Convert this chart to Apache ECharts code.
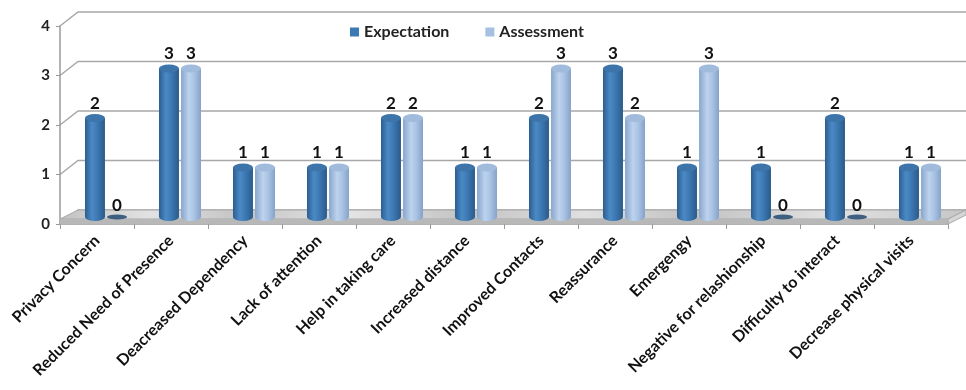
<!DOCTYPE html>
<html>
<head>
<meta charset="utf-8">
<script src="https://cdn.jsdelivr.net/npm/echarts@6/dist/echarts.min.js"></script>
<style>
  html, body { margin: 0; padding: 0; background: #fff; }
  #chart { width: 966px; height: 390px; }
</style>
</head>
<body>
<div id="chart"></div>
<script>
// data
var categories = [
  "Privacy Concern", "Reduced Need of Presence", "Deacreased Dependency",
  "Lack of attention", "Help in taking care", "Increased distance",
  "Improved Contacts", "Reassurance", "Emergengy",
  "Negative for relashionship", "Difficulty to interact", "Decrease physical visits"
];
var expectation = [2, 3, 1, 1, 2, 1, 2, 3, 1, 1, 2, 1];
var assessment  = [0, 3, 1, 1, 2, 1, 3, 2, 3, 0, 0, 1];
var yTicks = [0, 1, 2, 3, 4];

var DX = 18, DY = -14;      // depth offset of the back wall
var FONT = "Lato, 'Open Sans', sans-serif";

var myChart = echarts.init(document.getElementById("chart"));

function grad(stops) {
  return new echarts.graphic.LinearGradient(0, 0, 1, 0, stops);
}

// cylinder bars, placed half way into the depth
function cylinder(side, body, topColor, zeroColor) {
  return function (params, api) {
    var idx = api.value(0), v = api.value(1);
    var band = api.size([1, 0])[0];
    var base = api.coord([idx, 0]);
    var top = api.coord([idx, v]);
    var w = band * 0.27;
    var cx = base[0] + side * band * 0.149 + DX / 2;
    var by = base[1] + DY / 2;
    var ty = top[1] + DY / 2;
    var ry = 4;
    var children = [];
    if (v === 0) {
      children.push({
        type: "circle", x: cx, y: by, scaleY: 0.25,
        shape: { cx: 0, cy: 0, r: w / 2 },
        style: { fill: zeroColor }
      });
    } else {
      children.push({
        type: "circle", x: cx, y: by, scaleY: ry / (w / 2),
        shape: { cx: 0, cy: 0, r: w / 2 },
        style: { fill: grad(body) }
      });
      children.push({
        type: "rect",
        shape: { x: cx - w / 2, y: ty, width: w, height: by - ty },
        style: { fill: grad(body) }
      });
      children.push({
        type: "circle", x: cx, y: ty, scaleY: ry / (w / 2),
        shape: { cx: 0, cy: 0, r: w / 2 },
        style: { fill: topColor }
      });
    }
    children.push({
      type: "text",
      style: {
        text: String(v), x: cx, y: ty - (v === 0 ? 3 : ry + 2),
        align: "center", verticalAlign: "bottom",
        font: "bold 17px " + FONT, fill: "#111"
      }
    });
    return { type: "group", children: children };
  };
}

var expData = expectation.map(function (v, i) { return [i, v]; });
var assData = assessment.map(function (v, i) { return [i, v]; });

myChart.setOption({
  animation: false,
  legend: {
    left: 345,
    top: 19,
    itemWidth: 9,
    itemHeight: 9,
    itemGap: 36,
    icon: "rect",
    textStyle: { fontFamily: FONT, fontWeight: "bold", fontSize: 16, color: "#222" },
    data: ["Expectation", "Assessment"]
  },
  grid: {
    left: 60,
    right: 18,
    top: 26,
    bottom: 166
  },
  xAxis: {
    type: "category",
    data: categories,
    axisLine: { lineStyle: { color: "#9a9a9a", width: 1.5 } },
    axisTick: { show: true, length: 5, lineStyle: { color: "#9a9a9a" } },
    axisLabel: {
      rotate: 45,
      margin: 14,
      interval: 0,
      fontFamily: FONT,
      fontWeight: "bold",
      fontSize: 16,
      color: "#111"
    }
  },
  yAxis: {
    type: "value",
    min: 0,
    max: 4,
    interval: 1,
    axisLine: { show: true, lineStyle: { color: "#9a9a9a", width: 1.5 } },
    axisTick: { show: true, length: 4, lineStyle: { color: "#9a9a9a" } },
    splitLine: { show: false },
    axisLabel: {
      margin: 10,
      fontFamily: FONT,
      fontWeight: "bold",
      fontSize: 15,
      color: "#222"
    }
  },
  series: [
    {
      // floor slab
      type: "custom",
      silent: true,
      z: 1,
      data: [[0]],
      renderItem: function (params, api) {
        var cs = params.coordSys;
        var x0 = cs.x, x1 = cs.x + cs.width;
        var y0 = api.coord([0, 0])[1];
        var t = 5;
        return {
          type: "group",
          children: [
            {
              type: "polygon",
              shape: { points: [[x0, y0 - t], [x1, y0 - t], [x1 + DX, y0 + DY], [x0 + DX, y0 + DY]] },
              style: {
                fill: new echarts.graphic.LinearGradient(0, 0, 1, 0, [
                  { offset: 0, color: "#c2c2c2" }, { offset: 0.1, color: "#e2e2e2" },
                  { offset: 0.2, color: "#c4c4c4" }, { offset: 0.32, color: "#e4e4e4" },
                  { offset: 0.45, color: "#c3c3c3" }, { offset: 0.58, color: "#e0e0e0" },
                  { offset: 0.7, color: "#c2c2c2" }, { offset: 0.85, color: "#e1e1e1" },
                  { offset: 1, color: "#c6c6c6" }
                ]),
                stroke: "#a8a8a8", lineWidth: 1
              }
            },
            {
              type: "rect",
              shape: { x: x0, y: y0 - t, width: x1 - x0, height: t },
              style: { fill: "#b8b8b8" }
            },
            {
              type: "polygon",
              shape: { points: [[x1, y0 - t], [x1 + DX, y0 + DY], [x1 + DX, y0 + DY + t], [x1, y0]] },
              style: { fill: "#d6d6d6", stroke: "#a8a8a8", lineWidth: 1 }
            }
          ]
        };
      }
    },
    {
      // back wall grid lines and their diagonal links to the y axis
      type: "custom",
      silent: true,
      z: 0,
      data: yTicks.map(function (v) { return [0, v]; }),
      renderItem: function (params, api) {
        var cs = params.coordSys;
        var x0 = cs.x;
        var y = api.coord([0, api.value(1)])[1];
        return {
          type: "polyline",
          shape: { points: [[x0, y], [x0 + DX, y + DY], [966, y + DY]] },
          style: { fill: null, stroke: "#a8a8a8", lineWidth: 1.5 }
        };
      }
    },
    {
      name: "Expectation",
      type: "custom",
      z: 3,
      itemStyle: { color: "#3b78b4" },
      data: expData,
      renderItem: cylinder(-1, [
        { offset: 0, color: "#2c5d90" }, { offset: 0.35, color: "#4b8ac6" },
        { offset: 0.6, color: "#3e7ab5" }, { offset: 1, color: "#2a5a8a" }
      ], "#3d74a9", "#3f5f80")
    },
    {
      name: "Assessment",
      type: "custom",
      z: 3,
      itemStyle: { color: "#a5c0e2" },
      data: assData,
      renderItem: cylinder(1, [
        { offset: 0, color: "#88a5cb" }, { offset: 0.4, color: "#bdd3ee" },
        { offset: 0.65, color: "#aac4e4" }, { offset: 1, color: "#86a2c8" }
      ], "#a0bbdc", "#3f5f80")
    }
  ]
});
</script>
</body>
</html>
